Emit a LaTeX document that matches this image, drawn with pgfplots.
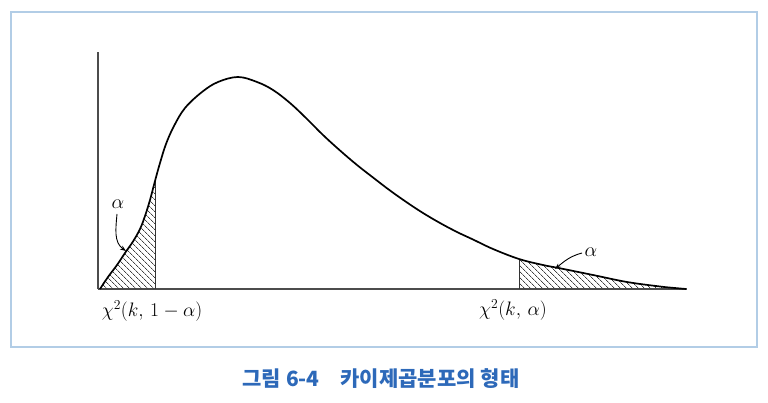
\RequirePackage{fix-cm}
\documentclass[border=0pt]{standalone}
\usepackage{fontspec}
\usepackage{pgfplots}
\pgfplotsset{compat=1.18}
\usetikzlibrary{patterns.meta,arrows.meta}
\newfontfamily\cjk{Noto Sans CJK KR}
\definecolor{framecol}{RGB}{178,205,230}
\definecolor{capcol}{RGB}{45,105,185}
\begin{document}
\begin{tikzpicture}
\begin{axis}[
  scale only axis, width=589pt, height=237pt,
  xmin=0, xmax=589, ymin=0, ymax=237,
  axis lines=left, axis line style={-, line width=1.1pt, black!70},
  xtick=\empty, ytick=\empty, clip=false,
]
% bounding box = full image
\path (axis cs:-98,289) rectangle (axis cs:670,-114);
% frame
\draw[framecol, line width=1.4pt] (axis cs:-87,277) rectangle (axis cs:659,-58);
% hatched areas
\addplot[smooth, tension=0.6, draw=none, pattern={Lines[angle=-45,distance=4pt,line width=0.75pt]}, pattern color=black!75]
  coordinates {(2,0) (10,12) (19,24) (27,36) (35,47.5) (42,60) (47,73) (52,89) (57,108)} \closedcycle;
\addplot[smooth, tension=0.6, draw=none, pattern={Lines[angle=-45,distance=4pt,line width=0.75pt]}, pattern color=black!75]
  coordinates {(421,30) (445,24) (462,20.7) (495,14) (529,7) (562,2.5) (579,0.8) (588,0)} \closedcycle;
\addplot[black!80, line width=1pt] coordinates {(57,0) (57,108)};
\addplot[black!80, line width=1pt] coordinates {(421,0) (421,30)};
% curve
\addplot[smooth, tension=0.6, black, line width=1.7pt] coordinates {
(2,0) (10,12) (19,24) (27,36) (35,47.5) (42,60) (47,73) (52,89) (57,108) (62,126) (68,145) (76,163) (87,181)
(104,197) (120,207) (140,212) (159,207) (175,199) (192,186) (209,170) (225,154)
(242,138.5) (259,124) (275,111.5) (292,98.5) (309,86.5) (325,76) (342,66) (359,57) (375,49.5)
(395,40) (421,30) (445,24) (462,20.7) (495,14) (529,7) (562,2.5) (579,0.8) (588,0)};
% labels
\node[font=\fontsize{19.5}{23}\selectfont] at (axis cs:54,-22) {$\chi^2(k,\,1-\alpha)$};
\node[font=\fontsize{19.5}{23}\selectfont] at (axis cs:415,-21) {$\chi^2(k,\,\alpha)$};
\node[font=\fontsize{20}{22}\selectfont] at (axis cs:20,85) {$\alpha$};
\node[font=\fontsize{20}{22}\selectfont] at (axis cs:493,37) {$\alpha$};
\draw[-{Stealth[length=6pt,width=4.5pt]}, line width=0.9pt] (axis cs:19,75) to[out=-95,in=145] (axis cs:28,38);
\draw[-{Stealth[length=6pt,width=4.5pt]}, line width=0.9pt] (axis cs:484,36) to[out=195,in=40] (axis cs:457,20);
% caption
\node[font=\cjk\bfseries\fontsize{21}{25}\selectfont, text=capcol] at (axis cs:283,-90) {그림 6-4\hspace{1em}카이제곱분포의 형태};
\end{axis}
\end{tikzpicture}
\end{document}
